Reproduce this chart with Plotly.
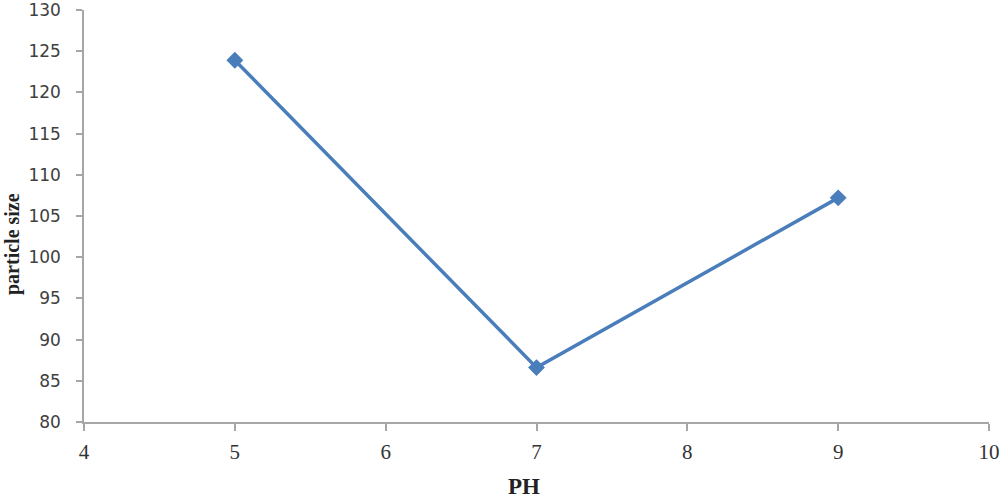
import plotly.graph_objects as go

ph = [5, 7, 9]
particle_size = [123.9, 86.6, 107.2]
x_ticks = [4, 5, 6, 7, 8, 9, 10]
y_ticks = [80, 85, 90, 95, 100, 105, 110, 115, 120, 125, 130]

fig = go.Figure()
fig.add_trace(go.Scatter(
    x=ph, y=particle_size, mode="lines+markers",
    line=dict(color="#4a7ebb", width=3.5),
    marker=dict(symbol="diamond", size=13, color="#4a7ebb"),
    showlegend=False, cliponaxis=False,
))

axis_color = "#a6a6a6"
serif = "Liberation Serif, Times New Roman, serif"
fig.update_layout(
    width=1000, height=499,
    margin=dict(l=84, r=11, t=10, b=77, autoexpand=False),
    paper_bgcolor="white", plot_bgcolor="white",
    xaxis=dict(
        range=[4, 10], tickvals=x_ticks, showgrid=False, zeroline=False,
        automargin=False, ticklabeloverflow="allow",
        showline=True, linecolor=axis_color, linewidth=1.5,
        ticks="outside", ticklen=7, tickcolor=axis_color, tickwidth=1.5,
        tickfont=dict(family=serif, size=21, color="#333333"),
        ticklabelstandoff=3,
    ),
    yaxis=dict(
        range=[80, 130], tickvals=y_ticks, showgrid=False, zeroline=False,
        automargin=False, ticklabeloverflow="allow",
        showline=True, linecolor=axis_color, linewidth=1.5,
        ticks="outside", ticklen=6, tickcolor=axis_color, tickwidth=1.5,
        tickfont=dict(family="DejaVu Sans, sans-serif", size=17, color="#404040"),
        ticklabelstandoff=12,
    ),
    annotations=[
        dict(text="<b>PH</b>", xref="paper", yref="paper", x=(524 - 84) / 905, y=-(486 - 422) / 412,
             xanchor="center", yanchor="middle", showarrow=False,
             font=dict(family=serif, size=23, color="#222222")),
        dict(text="<b>particle size</b>", xref="paper", yref="paper", x=-(84 - 12) / 905, y=(422 - 244) / 412,
             xanchor="center", yanchor="middle", showarrow=False, textangle=-90,
             font=dict(family=serif, size=20, color="#222222")),
    ],
)

fig.write_html("out.html", config={"displayModeBar": False},
               post_script="document.body.style.margin='0';document.body.style.padding='0';")
